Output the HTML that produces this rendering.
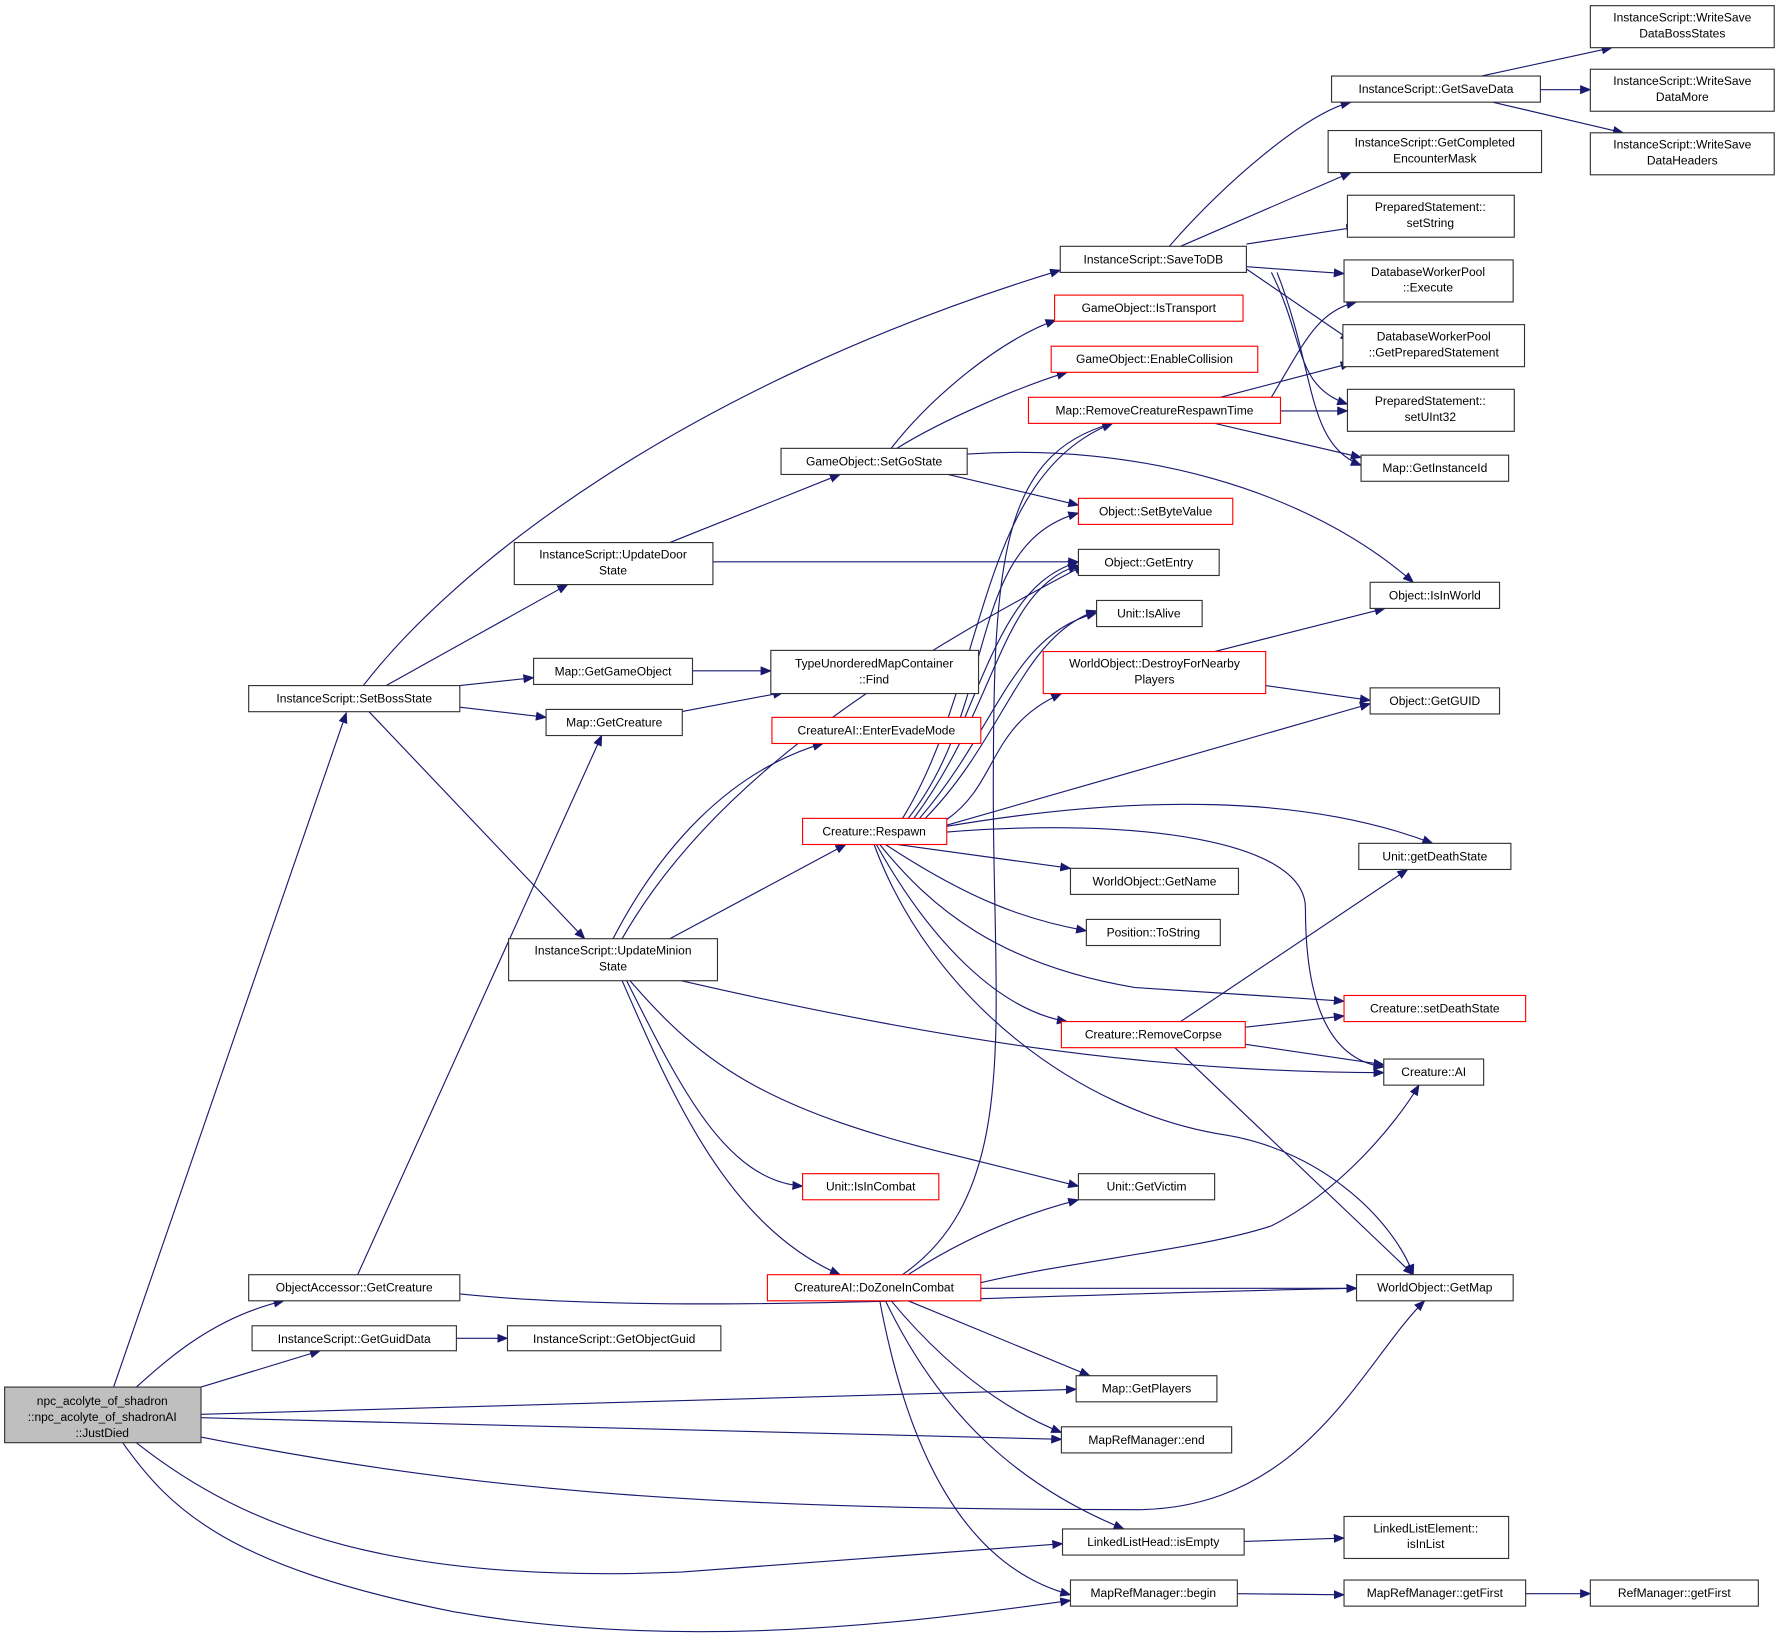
<!DOCTYPE html>
<html><head><meta charset="utf-8"><style>
html,body{margin:0;padding:0;background:#fff;width:1780px;height:1647px;overflow:hidden}
svg text{font-family:"Liberation Sans","DejaVu Sans",sans-serif;font-size:10.6px;fill:#000;text-anchor:middle}
.n{fill:#fff;stroke:#333;stroke-width:1}
.r{fill:#fff;stroke:#f00;stroke-width:1}
.e{fill:none;stroke:#191970;stroke-width:1;marker-end:url(#a)}
</style></head><body>
<svg width="1780" height="1647" viewBox="0 0 1568 1451" xmlns="http://www.w3.org/2000/svg">
<defs><marker id="a" markerWidth="10" markerHeight="8" refX="9" refY="4" orient="auto" markerUnits="userSpaceOnUse"><path d="M0,0 L10,4 L0,8 z" fill="#191970"/></marker></defs>
<g>
<path class="e" d="M100,1222 L305,628"/>
<path class="e" d="M120,1222 C150,1195 190,1160 250,1146"/>
<path class="e" d="M177,1222 L282,1190"/>
<path class="e" d="M177,1246 L948,1224"/>
<path class="e" d="M177,1249 L935,1268"/>
<path class="e" d="M177,1266 C400,1310 600,1330 1000,1330 C1150,1330 1200,1200 1255,1146"/>
<path class="e" d="M120,1271 C220,1350 350,1395 600,1385 L936,1360"/>
<path class="e" d="M108,1271 C150,1330 200,1380 400,1420 C600,1455 800,1430 943,1410"/>
<path class="e" d="M320,604 C400,500 600,340 934,238"/>
<path class="e" d="M340,604 L500,515"/>
<path class="e" d="M405,604 L470,597"/>
<path class="e" d="M405,623 L481,632"/>
<path class="e" d="M325,627 L515,827"/>
<path class="e" d="M315,1123 L530,648"/>
<path class="e" d="M405,1140 C600,1160 900,1140 1195,1135"/>
<path class="e" d="M402,1179 L447,1179"/>
<path class="e" d="M590,478 L740,418"/>
<path class="e" d="M628,495 L950,495"/>
<path class="e" d="M610,591 L679,591"/>
<path class="e" d="M600,627 L690,610"/>
<path class="e" d="M540,827 C580,750 640,680 725,655"/>
<path class="e" d="M548,827 C620,700 760,600 955,498"/>
<path class="e" d="M590,827 L745,744"/>
<path class="e" d="M600,864 C800,910 1000,945 1219,945"/>
<path class="e" d="M555,864 C620,940 680,980 850,1020 L950,1045"/>
<path class="e" d="M552,864 C600,960 640,1040 707,1045"/>
<path class="e" d="M548,864 C590,960 640,1080 740,1123"/>
<path class="e" d="M785,395 C820,350 880,300 930,282"/>
<path class="e" d="M790,395 C830,370 900,340 940,328"/>
<path class="e" d="M835,418 L950,445"/>
<path class="e" d="M852,400 C1000,390 1150,430 1245,513"/>
<path class="e" d="M1030,217 C1080,160 1150,100 1190,90"/>
<path class="e" d="M1040,217 L1190,152"/>
<path class="e" d="M1098,215 L1195,200"/>
<path class="e" d="M1098,235 L1184,241"/>
<path class="e" d="M1098,237 L1190,300"/>
<path class="e" d="M1120,240 C1150,300 1140,340 1187,356"/>
<path class="e" d="M1125,240 C1160,330 1150,390 1199,410"/>
<path class="e" d="M1305,67 L1420,42"/>
<path class="e" d="M1357,79 L1401,79"/>
<path class="e" d="M1315,90 L1430,117"/>
<path class="e" d="M1120,350 C1150,300 1160,275 1195,266"/>
<path class="e" d="M1075,350 L1190,320"/>
<path class="e" d="M1128,362 L1187,362"/>
<path class="e" d="M1070,373 L1199,403"/>
<path class="e" d="M850,632 C880,560 900,510 950,495"/>
<path class="e" d="M795,721 C870,600 860,420 980,373"/>
<path class="e" d="M800,721 C880,620 850,480 950,452"/>
<path class="e" d="M805,721 C880,620 880,520 950,498"/>
<path class="e" d="M810,721 C880,640 890,560 966,540"/>
<path class="e" d="M815,721 C885,650 900,560 966,538"/>
<path class="e" d="M834,722 C880,690 870,640 935,611"/>
<path class="e" d="M834,727 L1207,620"/>
<path class="e" d="M834,728 C1000,700 1150,700 1262,743"/>
<path class="e" d="M834,733 C1000,720 1150,740 1150,800 C1150,900 1180,935 1219,940"/>
<path class="e" d="M790,744 L943,765"/>
<path class="e" d="M780,744 C850,790 900,810 957,820"/>
<path class="e" d="M775,744 C820,800 880,850 1000,870 L1184,882"/>
<path class="e" d="M772,744 C820,830 880,890 940,900"/>
<path class="e" d="M770,744 C820,880 950,980 1080,1000 C1170,1015 1230,1080 1245,1123"/>
<path class="e" d="M1070,574 L1220,536"/>
<path class="e" d="M1115,604 L1207,617"/>
<path class="e" d="M1040,900 L1240,766"/>
<path class="e" d="M1097,905 L1184,895"/>
<path class="e" d="M1097,920 L1219,938"/>
<path class="e" d="M1035,923 L1245,1123"/>
<path class="e" d="M795,1123 C900,1050 875,900 875,700 C875,500 880,400 980,373"/>
<path class="e" d="M800,1123 C850,1090 900,1070 950,1057"/>
<path class="e" d="M864,1130 C950,1110 1060,1100 1120,1080 C1180,1050 1230,990 1250,956"/>
<path class="e" d="M864,1135 L1195,1135"/>
<path class="e" d="M800,1146 L960,1212"/>
<path class="e" d="M785,1146 C830,1200 880,1240 935,1262"/>
<path class="e" d="M780,1146 C830,1250 900,1310 990,1347"/>
<path class="e" d="M775,1146 C800,1280 850,1380 943,1405"/>
<path class="e" d="M1096,1358 L1184,1355"/>
<path class="e" d="M1090,1404 L1184,1405"/>
<path class="e" d="M1344,1404 L1401,1404"/>
</g>
<g>
<rect x="4" y="1222" width="173" height="49" fill="#bfbfbf" stroke="#333"/>
<text x="90" y="1238">npc_acolyte_of_shadron</text><text x="90" y="1252">::npc_acolyte_of_shadronAI</text><text x="90" y="1266">::JustDied</text>

<rect class="n" x="219" y="604" width="186" height="23"/><text x="312" y="619">InstanceScript::SetBossState</text>
<rect class="n" x="219" y="1123" width="186" height="23"/><text x="312" y="1138">ObjectAccessor::GetCreature</text>
<rect class="n" x="222" y="1168" width="180" height="22"/><text x="312" y="1183">InstanceScript::GetGuidData</text>
<rect class="n" x="447" y="1168" width="188" height="22"/><text x="541" y="1183">InstanceScript::GetObjectGuid</text>
<rect class="n" x="453" y="478" width="175" height="37"/><text x="540" y="492">InstanceScript::UpdateDoor</text><text x="540" y="506">State</text>
<rect class="n" x="470" y="580" width="140" height="23"/><text x="540" y="595">Map::GetGameObject</text>
<rect class="n" x="481" y="625" width="120" height="23"/><text x="541" y="640">Map::GetCreature</text>
<rect class="n" x="448" y="827" width="184" height="37"/><text x="540" y="841">InstanceScript::UpdateMinion</text><text x="540" y="855">State</text>
<rect class="n" x="679" y="573" width="183" height="38"/><text x="770" y="588">TypeUnorderedMapContainer</text><text x="770" y="602">::Find</text>
<rect class="n" x="688" y="395" width="164" height="23"/><text x="770" y="410">GameObject::SetGoState</text>
<rect class="n" x="934" y="217" width="164" height="23"/><text x="1016" y="232">InstanceScript::SaveToDB</text>
<rect class="r" x="929" y="260" width="166" height="23"/><text x="1012" y="275">GameObject::IsTransport</text>
<rect class="r" x="926" y="305" width="182" height="23"/><text x="1017" y="320">GameObject::EnableCollision</text>
<rect class="r" x="906" y="350" width="222" height="23"/><text x="1017" y="365">Map::RemoveCreatureRespawnTime</text>
<rect class="r" x="950" y="439" width="136" height="23"/><text x="1018" y="454">Object::SetByteValue</text>
<rect class="n" x="950" y="484" width="124" height="23"/><text x="1012" y="499">Object::GetEntry</text>
<rect class="n" x="966" y="529" width="93" height="23"/><text x="1012" y="544">Unit::IsAlive</text>
<rect class="r" x="919" y="574" width="196" height="37"/><text x="1017" y="588">WorldObject::DestroyForNearby</text><text x="1017" y="602">Players</text>
<rect class="r" x="680" y="632" width="184" height="23"/><text x="772" y="647">CreatureAI::EnterEvadeMode</text>
<rect class="r" x="707" y="721" width="127" height="23"/><text x="770" y="736">Creature::Respawn</text>
<rect class="n" x="943" y="765" width="148" height="23"/><text x="1017" y="780">WorldObject::GetName</text>
<rect class="n" x="957" y="810" width="118" height="23"/><text x="1016" y="825">Position::ToString</text>
<rect class="r" x="935" y="900" width="162" height="23"/><text x="1016" y="915">Creature::RemoveCorpse</text>
<rect class="r" x="707" y="1034" width="120" height="23"/><text x="767" y="1049">Unit::IsInCombat</text>
<rect class="n" x="950" y="1034" width="120" height="23"/><text x="1010" y="1049">Unit::GetVictim</text>
<rect class="r" x="676" y="1123" width="188" height="23"/><text x="770" y="1138">CreatureAI::DoZoneInCombat</text>
<rect class="n" x="948" y="1212" width="124" height="23"/><text x="1010" y="1227">Map::GetPlayers</text>
<rect class="n" x="935" y="1257" width="150" height="23"/><text x="1010" y="1272">MapRefManager::end</text>
<rect class="n" x="936" y="1347" width="160" height="23"/><text x="1016" y="1362">LinkedListHead::isEmpty</text>
<rect class="n" x="943" y="1392" width="147" height="23"/><text x="1016" y="1407">MapRefManager::begin</text>
<rect class="n" x="1173" y="67" width="184" height="23"/><text x="1265" y="82">InstanceScript::GetSaveData</text>
<rect class="n" x="1170" y="115" width="188" height="37"/><text x="1264" y="129">InstanceScript::GetCompleted</text><text x="1264" y="143">EncounterMask</text>
<rect class="n" x="1187" y="172" width="147" height="37"/><text x="1260" y="186">PreparedStatement::</text><text x="1260" y="200">setString</text>
<rect class="n" x="1184" y="229" width="149" height="37"/><text x="1258" y="243">DatabaseWorkerPool</text><text x="1258" y="257">::Execute</text>
<rect class="n" x="1183" y="286" width="160" height="37"/><text x="1263" y="300">DatabaseWorkerPool</text><text x="1263" y="314">::GetPreparedStatement</text>
<rect class="n" x="1187" y="343" width="147" height="37"/><text x="1260" y="357">PreparedStatement::</text><text x="1260" y="371">setUInt32</text>
<rect class="n" x="1199" y="401" width="130" height="23"/><text x="1264" y="416">Map::GetInstanceId</text>
<rect class="n" x="1207" y="513" width="114" height="23"/><text x="1264" y="528">Object::IsInWorld</text>
<rect class="n" x="1207" y="606" width="114" height="23"/><text x="1264" y="621">Object::GetGUID</text>
<rect class="n" x="1197" y="743" width="134" height="23"/><text x="1264" y="758">Unit::getDeathState</text>
<rect class="r" x="1184" y="877" width="160" height="23"/><text x="1264" y="892">Creature::setDeathState</text>
<rect class="n" x="1219" y="933" width="88" height="23"/><text x="1263" y="948">Creature::AI</text>
<rect class="n" x="1195" y="1123" width="138" height="23"/><text x="1264" y="1138">WorldObject::GetMap</text>
<rect class="n" x="1184" y="1336" width="145" height="37"/><text x="1256" y="1350">LinkedListElement::</text><text x="1256" y="1364">isInList</text>
<rect class="n" x="1184" y="1392" width="160" height="23"/><text x="1264" y="1407">MapRefManager::getFirst</text>
<rect class="n" x="1401" y="1392" width="148" height="23"/><text x="1475" y="1407">RefManager::getFirst</text>
<rect class="n" x="1401" y="5" width="162" height="37"/><text x="1482" y="19">InstanceScript::WriteSave</text><text x="1482" y="33">DataBossStates</text>
<rect class="n" x="1401" y="61" width="162" height="37"/><text x="1482" y="75">InstanceScript::WriteSave</text><text x="1482" y="89">DataMore</text>
<rect class="n" x="1401" y="117" width="162" height="37"/><text x="1482" y="131">InstanceScript::WriteSave</text><text x="1482" y="145">DataHeaders</text>
</g>
</svg>
</body></html>
